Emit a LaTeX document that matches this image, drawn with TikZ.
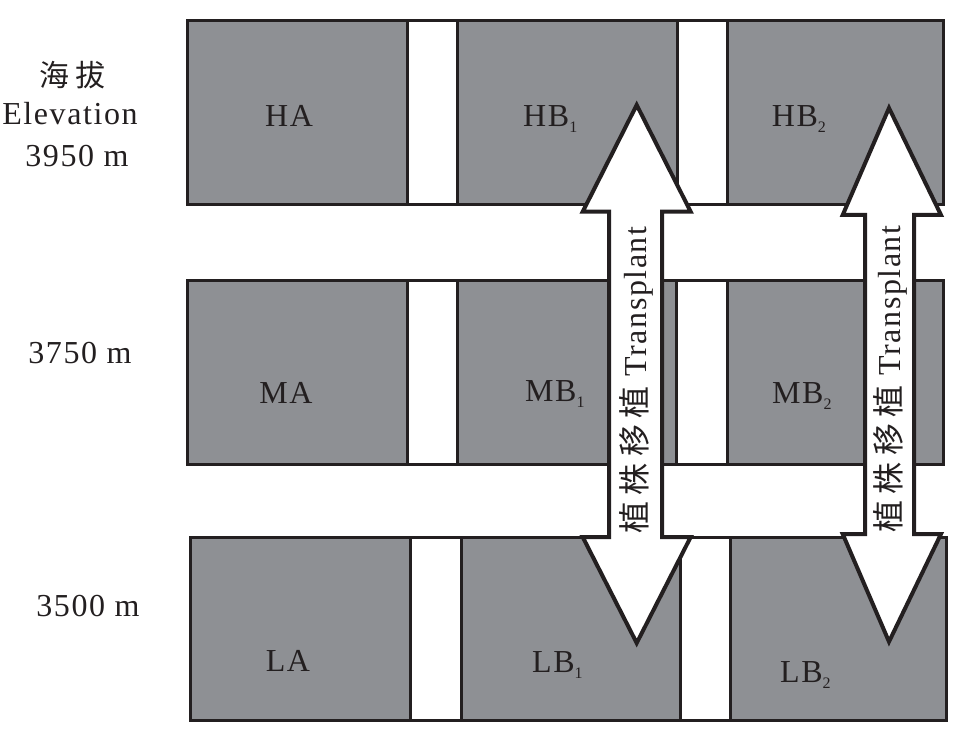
\documentclass[tikz,border=0pt]{standalone}
\usepackage{fontspec}
\setmainfont{Liberation Serif}[LetterSpace=5]
\newfontfamily\cjk{Noto Sans CJK SC}[LetterSpace=20]
\definecolor{plotgray}{RGB}{142,144,148}
\definecolor{ink}{RGB}{35,31,32}
\newcommand{\sbx}[1]{\raisebox{-6pt}{\fontsize{16}{16}\selectfont #1}}
\tikzset{
  plot/.style={fill=plotgray, draw=ink, line width=3pt},
  strip/.style={fill=white, draw=ink, line width=3pt},
  bigarrow/.style={fill=white, draw=ink, line width=4pt, line join=miter},
  lbl/.style={font=\fontsize{32}{32}\selectfont, text=ink, inner sep=0pt},
}
\begin{document}
\begin{tikzpicture}[x=1pt,y=-1pt]
\useasboundingbox (0,0) rectangle (967,743);
% row 1
\draw[plot] (187,20.5) rectangle (943,204.5);
\draw[strip] (407,20.5) rectangle (457,204.5);
\draw[strip] (677,20.5) rectangle (727,204.5);
% row 2
\draw[plot] (187,280.5) rectangle (943,464.5);
\draw[strip] (407,280.5) rectangle (457,464.5);
\draw[strip] (676,280.5) rectangle (727,464.5);
% row 3
\draw[plot] (190,537) rectangle (946.5,720.5);
\draw[strip] (410,537) rectangle (461,720.5);
\draw[strip] (680,537) rectangle (730.5,720.5);
% arrows
\draw[bigarrow] (636.7,105) -- (690.7,211.7) -- (662,211.7) -- (662,537) -- (690.7,537) -- (636.7,643) -- (582.7,537) -- (609,537) -- (609,211.7) -- (582.7,211.7) -- cycle;
\draw[bigarrow] (889,108) -- (941,215) -- (914,215) -- (914,534) -- (941,534) -- (889,641.7) -- (842.7,534) -- (865,534) -- (865,215) -- (842.7,215) -- cycle;
% plot labels
\node[lbl, anchor=base] (ha) at (289,126.7) {HA};
\node[lbl, anchor=base west] (hb1) at (523,127) {HB\sbx{1}};
\node[lbl, anchor=base west] (hb2) at (771.7,126.7) {HB\sbx{2}};
\node[lbl, anchor=base] (ma) at (286,403) {MA};
\node[lbl, anchor=base west] (mb1) at (525,401) {MB\sbx{1}};
\node[lbl, anchor=base west] (mb2) at (772,403) {MB\sbx{2}};
\node[lbl, anchor=base] (la) at (288,671) {LA};
\node[lbl, anchor=base west] (lb1) at (532,672) {LB\sbx{1}};
\node[lbl, anchor=base west] (lb2) at (780,682) {LB\sbx{2}};
% elevation labels
\node[lbl, font=\fontsize{30}{30}\selectfont\cjk] (hai) at (72,75) {海拔};
\node[lbl, anchor=base] (elev) at (70,125) {Elevation};
\node[lbl, anchor=base] (e3950) at (77,167) {3950 m};
\node[lbl, anchor=base] (e3750) at (80,364) {3750 m};
\node[lbl, anchor=base] (e3500) at (88,616) {3500 m};
% arrow texts
\node[lbl, anchor=base, rotate=90] (t1) at (646,380) {{\cjk 植株移植} Transplant};
\node[lbl, anchor=base, rotate=90] (t2) at (900,379) {{\cjk 植株移植} Transplant};
\end{tikzpicture}
\end{document}
